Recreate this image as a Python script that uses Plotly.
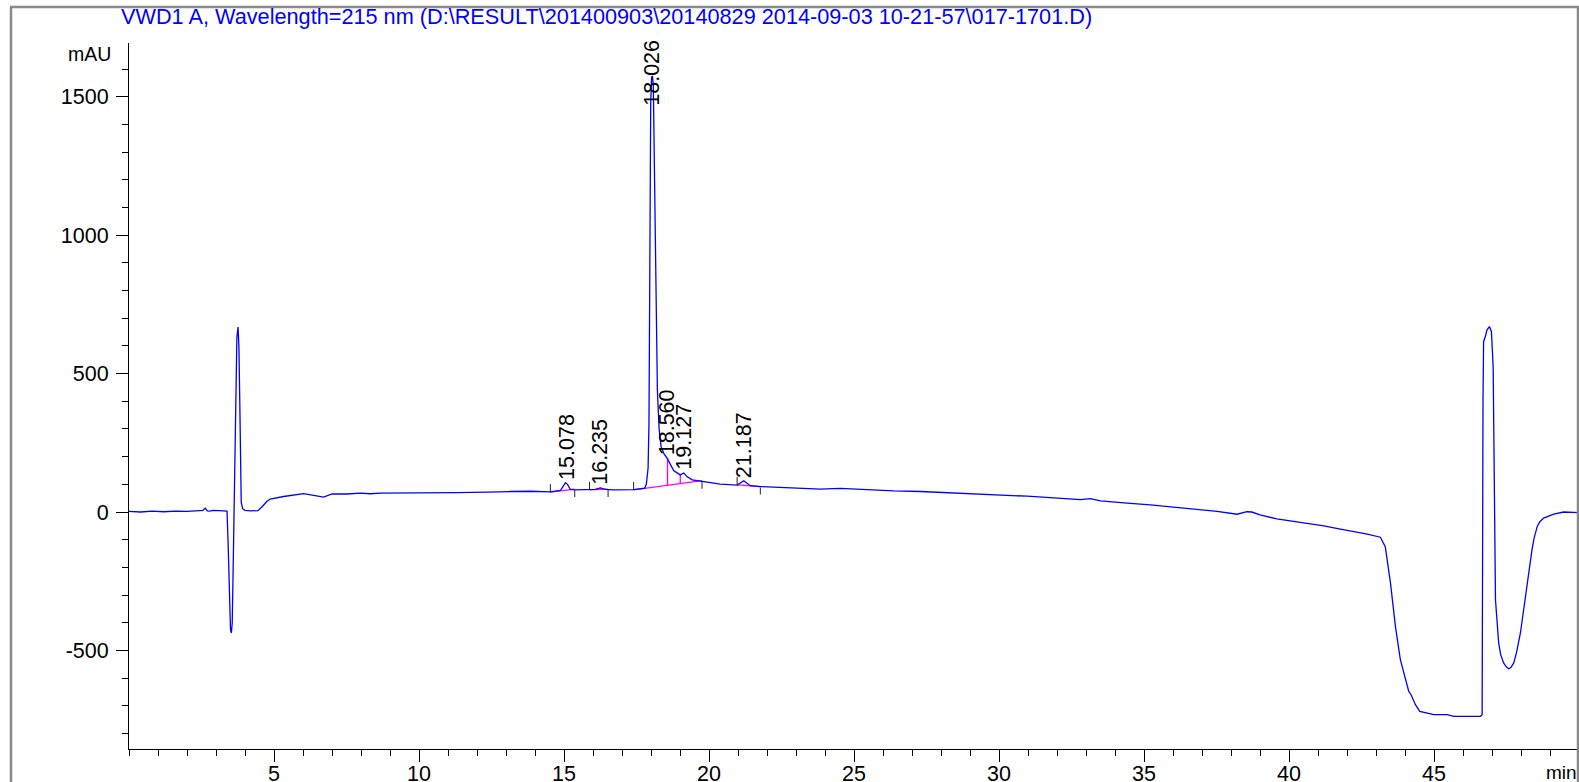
import plotly.graph_objects as go

# ---------------- data ----------------
time_min = [
    0.0, 0.4, 0.8, 1.2, 1.6, 2.0, 2.3, 2.55, 2.63, 2.70, 2.78, 2.9, 3.1, 3.3, 3.38,
    3.42, 3.46, 3.50, 3.53, 3.56, 3.60, 3.64, 3.68, 3.72, 3.76, 3.79, 3.82, 3.84, 3.87,
    3.92, 4.0, 4.2, 4.45, 4.6, 4.75, 4.87, 5.33, 6.02, 6.37, 6.71, 7.0, 7.52, 7.98,
    8.32, 8.67, 9.47, 10.28, 10.51, 11.31, 12.35, 13.04, 13.15, 13.84, 14.53, 14.88,
    14.98, 15.05, 15.12, 15.22, 15.38, 15.88, 16.08, 16.25, 16.43, 16.71, 17.40, 17.78,
    17.84, 17.90, 17.93, 17.95, 17.97, 17.99, 18.02, 18.05, 18.08, 18.11, 18.14, 18.17,
    18.22, 18.28, 18.35, 18.45, 18.57, 18.78, 18.96, 19.01, 19.08, 19.13, 19.18, 19.24,
    19.42, 19.76, 20.39, 20.97, 21.08, 21.2, 21.31, 21.43, 21.77, 22.92, 23.84, 24.53,
    25.45, 26.37, 27.29, 28.21, 29.13, 30.05, 30.97, 31.89, 32.81, 33.15, 33.5, 34.42,
    35.22, 36.37, 37.52, 38.21, 38.4, 38.55, 38.72, 39.0, 39.58, 40.39, 41.2, 41.77,
    42.12, 42.7, 43.15, 43.32, 43.50, 43.67, 43.84, 44.01, 44.13, 44.21, 44.36, 44.51,
    44.99, 45.45, 45.68, 46.60, 46.66, 46.69, 46.71, 46.77, 46.83, 46.91, 46.98, 47.04,
    47.08, 47.12, 47.23, 47.30, 47.40, 47.50, 47.58, 47.65, 47.75, 47.85, 47.98, 48.10,
    48.21, 48.30, 48.38, 48.45, 48.56, 48.65, 48.78, 49.13, 49.47, 50.0,
]
signal_mau = [
    2, 0, 3, 1, 3, 2, 4, 6, 14, 4, 3, 6, 5, 5, 3,
    -120, -330, -425, -437, -400, -150, 150, 450, 630, 668, 600, 400, 150, 35,
    12, 6, 4, 5, 20, 38, 47, 56, 66, 61, 54, 65, 65, 68,
    66, 68, 68, 68, 70, 70, 72, 76, 74, 75, 73, 78,
    95, 106, 100, 82, 80, 80, 82, 87, 82, 80, 81, 86,
    100, 160, 320, 700, 1200, 1480, 1570, 1575, 1540, 1300, 1000, 700,
    440, 300, 235, 210, 192, 150, 136, 134, 138, 141, 135, 128,
    116, 110, 101, 97, 105, 113, 104, 95, 92, 88, 83, 85,
    80, 76, 74, 70, 66, 62, 57, 51, 45, 48, 40, 32,
    26, 14, 2, -8, -4, 1, 0, -10, -25, -37, -50, -62,
    -68, -80, -91, -125, -257, -413, -533, -606, -648, -660, -696, -720,
    -732, -732, -738, -738, -732, 405, 615, 634, 658, 670, 652, 525,
    164, -317, -473, -515, -545, -560, -566, -562, -545, -505, -437, -345,
    -257, -190, -136, -95, -52, -35, -22, -8, 0, -2,
]

peak_rt = [15.078, 16.235, 18.026, 18.560, 19.127, 21.187]
peak_height = [106, 87, 1575, 195, 141, 113]

bl_start_t = [14.53, 15.88, 17.40, 20.97]
bl_start_v = [72, 80, 80, 98]
bl_end_t = [15.37, 16.52, 19.76, 21.77]
bl_end_v = [83, 83, 113, 92]
drop_t = [18.57, 19.01]
drop_top = [195, 134]

x_ticks = [5, 10, 15, 20, 25, 30, 35, 40, 45]
y_ticks = [-500, 0, 500, 1000, 1500]
y_tick_text = ["-500", "0", "500", "1000", "1500"]

title_text = "VWD1 A, Wavelength=215 nm (D:\\RESULT\\201400903\\20140829 2014-09-03 10-21-57\\017-1701.D)"

# ---------------- layout constants ----------------
W, H = 1579, 782
ML, MR, MT, MB = 129, 0, 43, 33
PW, PH = W - ML - MR, H - MT - MB
XMIN, XMAX = 0, 50
YMIN, YMAX = -856, 1694
MAU_PER_PX = (YMAX - YMIN) / PH
FONT = "Liberation Sans, Arial, sans-serif"
FS = 21.5


def px_x(px):
    return (px - ML) / PW


def px_y(py):
    return (H - MB - py) / PH


fig = go.Figure()

# integration baselines (magenta)
bx, by = [], []
for s, sv, e, ev in zip(bl_start_t, bl_start_v, bl_end_t, bl_end_v):
    bx += [s, e, None]
    by += [sv, ev, None]
g = 2
for dt, top in zip(drop_t, drop_top):
    frac = (dt - bl_start_t[g]) / (bl_end_t[g] - bl_start_t[g])
    base = bl_start_v[g] + frac * (bl_end_v[g] - bl_start_v[g])
    bx += [dt, dt, None]
    by += [base, top, None]
fig.add_trace(go.Scatter(x=bx, y=by, mode="lines",
                         line=dict(color="#FF00FF", width=1.3),
                         hoverinfo="skip", showlegend=False))

# chromatogram
fig.add_trace(go.Scatter(x=time_min, y=signal_mau, mode="lines",
                         line=dict(color="#0000FF", width=1.3),
                         showlegend=False))

# peak start / end tick marks
tx, ty = [], []
for s, sv, e, ev in zip(bl_start_t, bl_start_v, bl_end_t, bl_end_v):
    tx += [s, s, None, e, e, None]
    ty += [sv, sv + 8 * MAU_PER_PX, None,
           ev - 1 * MAU_PER_PX, ev - 8 * MAU_PER_PX, None]
fig.add_trace(go.Scatter(x=tx, y=ty, mode="lines",
                         line=dict(color="#222222", width=1),
                         hoverinfo="skip", showlegend=False))

# retention-time labels
label_len = 66 * MAU_PER_PX
for rt, h in zip(peak_rt, peak_height):
    y_lab = h + 1 * MAU_PER_PX
    if y_lab + label_len > YMAX:
        fig.add_annotation(x=rt, y=YMAX, xref="x", yref="y", text=f"{rt:.3f}",
                           textangle=-90, showarrow=False, xanchor="center",
                           yanchor="top", yshift=5,
                           font=dict(family=FONT, size=FS, color="black"))
    else:
        fig.add_annotation(x=rt, y=y_lab, xref="x", yref="y", text=f"{rt:.3f}",
                           textangle=-90, showarrow=False, xanchor="center",
                           yanchor="bottom",
                           font=dict(family=FONT, size=FS, color="black"))

# title, unit labels
fig.add_annotation(x=px_x(119), y=px_y(2), xref="paper", yref="paper",
                   text=title_text, showarrow=False, xanchor="left", yanchor="top",
                   font=dict(family=FONT, size=21.7, color="#0000FF"))
fig.add_annotation(x=px_x(113), y=px_y(54), xref="paper", yref="paper",
                   text="mAU", showarrow=False, xanchor="right", yanchor="middle",
                   font=dict(family=FONT, size=19.5, color="black"))
fig.add_annotation(x=px_x(1579), y=px_y(772), xref="paper", yref="paper",
                   text="min", showarrow=False, xanchor="right", yanchor="middle",
                   font=dict(family=FONT, size=19, color="black"))

# gray outer frame
frame = dict(color="#8a8a8a", width=2.5)
fig.add_shape(type="line", xref="paper", yref="paper",
              x0=px_x(11), x1=px_x(11), y0=px_y(H + 5), y1=px_y(7), line=frame)
fig.add_shape(type="line", xref="paper", yref="paper",
              x0=px_x(10), x1=px_x(W + 5), y0=px_y(7), y1=px_y(7), line=frame)
fig.add_shape(type="line", xref="paper", yref="paper",
              x0=px_x(1578), x1=px_x(1578), y0=px_y(H + 5), y1=px_y(7), line=frame)

axis_common = dict(
    showgrid=False, zeroline=False, showline=True, linecolor="black", linewidth=1,
    ticks="outside", ticklen=12, tickwidth=1, tickcolor="black", automargin=False,
    tickfont=dict(family=FONT, size=FS, color="black"),
)

fig.update_xaxes(range=[XMIN, XMAX], tickmode="array", tickvals=x_ticks,
                 ticklabelstandoff=-7,
                 minor=dict(tickmode="linear", tick0=0, dtick=1, ticks="outside",
                            ticklen=6, tickcolor="black", showgrid=False),
                 **axis_common)
fig.update_yaxes(range=[YMIN, YMAX], tickmode="array", tickvals=y_ticks,
                 ticktext=y_tick_text, ticklabelstandoff=3,
                 minor=dict(tickmode="linear", tick0=0, dtick=100, ticks="outside",
                            ticklen=6, tickcolor="black", showgrid=False),
                 **axis_common)

fig.update_layout(
    width=W, height=H,
    margin=dict(l=ML, r=MR, t=MT, b=MB, pad=0, autoexpand=False),
    paper_bgcolor="white", plot_bgcolor="white",
    showlegend=False,
    font=dict(family=FONT),
)

fig.write_html(
    "out.html",
    config={"displayModeBar": False},
    post_script="document.body.style.margin='0px';document.body.style.overflow='hidden';",
)
